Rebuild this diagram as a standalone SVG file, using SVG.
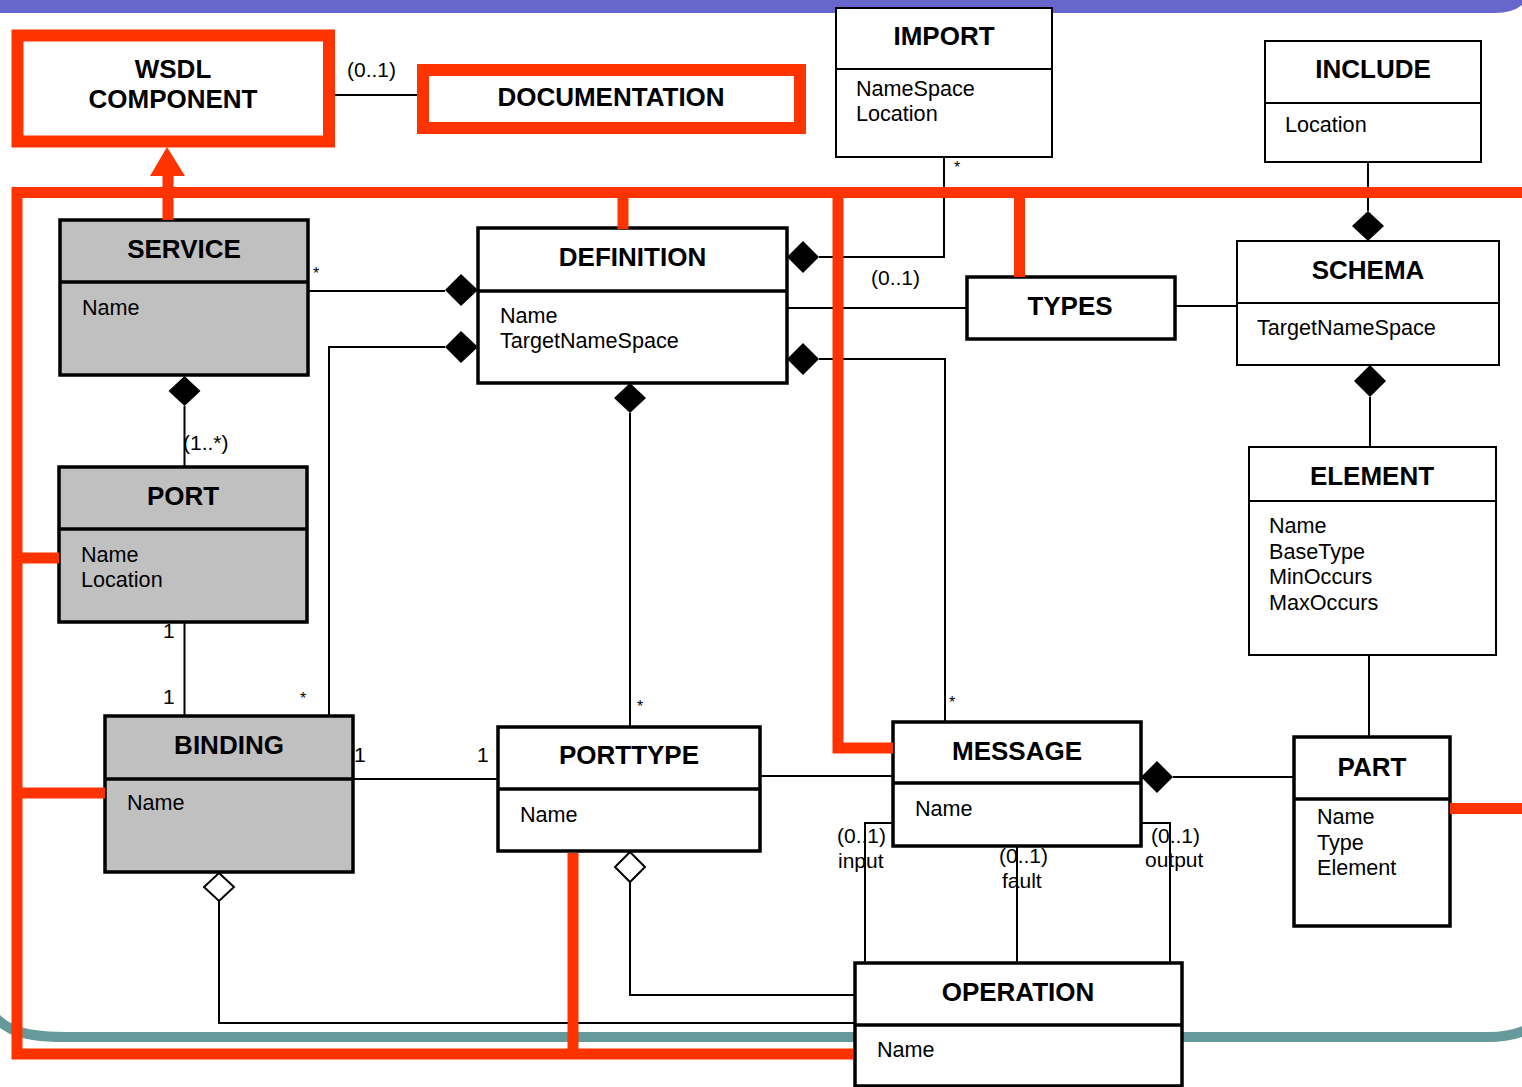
<svg xmlns="http://www.w3.org/2000/svg" width="1522" height="1087" viewBox="0 0 1522 1087">
  <style>
    text { font-family: "Liberation Sans", Arial, sans-serif; fill: #000; }
    .title { font-size: 26px; font-weight: bold; text-anchor: middle; }
    .attr { font-size: 21.6px; }
    .mult { font-size: 21px; }
    .star { font-size: 16px; }
    .box { fill: #fff; stroke: #000; stroke-width: 3.5; }
    .box.grey { fill: #c0c0c0; }
    .box.thin { stroke-width: 2; }
    .div { stroke: #000; stroke-width: 3.5; }
    .div.thin { stroke-width: 2; }
    .conn { fill: none; stroke: #000; stroke-width: 2; }
    .dia { fill: #000; }
    .hdia { fill: #fff; stroke: #000; stroke-width: 2; }
    .red { fill: none; stroke: #ff3300; stroke-width: 11; stroke-linejoin: miter; }
  </style>

  <!-- slide frame -->
  <rect x="0" y="0" width="1522" height="1087" fill="#fff"/>
  <path d="M0,0 H1522 V5 Q1512,13 1495,13 H0 Z" fill="#6666cc"/>
  <path d="M-20,993 C-5,1030 20,1037 65,1037 H1488 Q1510,1037 1526,1030" fill="none" stroke="#669999" stroke-width="10"/>

  <!-- connectors -->
  <g id="connectors">
    <path class="conn" d="M335,95 H417"/>
    <path class="conn" d="M308,291 H445"/>
    <path class="conn" d="M445,347 H329 V717"/>
    <path class="conn" d="M819,257 H944 V157"/>
    <path class="conn" d="M787,308 H967"/>
    <path class="conn" d="M819,359 H945 V722"/>
    <path class="conn" d="M630,413 V727"/>
    <path class="conn" d="M1368,162 V211"/>
    <path class="conn" d="M1175,306 H1237"/>
    <path class="conn" d="M1370,397 V447"/>
    <path class="conn" d="M1369,655 V737"/>
    <path class="conn" d="M184.5,406 V467"/>
    <path class="conn" d="M184.5,622 V716"/>
    <path class="conn" d="M353,779 H498"/>
    <path class="conn" d="M760,776 H893"/>
    <path class="conn" d="M1173,777 H1294"/>
    <path class="conn" d="M630,882 V995 H855"/>
    <path class="conn" d="M219,901 V1023 H855"/>
    <path class="conn" d="M893,823 H865 V963"/>
    <path class="conn" d="M1017,846 V963"/>
    <path class="conn" d="M1141,823 H1170 V963"/>

    <!-- composition diamonds -->
    <polygon class="dia" points="445,290 461,274 478,290 461,306"/>
    <polygon class="dia" points="445,347 461,331 478,347 461,363"/>
    <polygon class="dia" points="787,257 803,241 819,257 803,273"/>
    <polygon class="dia" points="787,359 803,343 819,359 803,375"/>
    <polygon class="dia" points="630,383 646,398 630,413 614,398"/>
    <polygon class="dia" points="184.5,376 200.5,391 184.5,406 168.5,391"/>
    <polygon class="dia" points="1368,211 1384,226 1368,241 1352,226"/>
    <polygon class="dia" points="1370,365 1386,381 1370,397 1354,381"/>
    <polygon class="dia" points="1141,777 1157,761 1173,777 1157,793"/>
    <!-- aggregation diamonds -->
    <polygon class="hdia" points="630,852 645,867 630,882 615,867"/>
    <polygon class="hdia" points="219,873 234,887 219,901 204,887"/>

    <!-- multiplicities -->
    <text class="mult" x="347" y="77">(0..1)</text>
    <text class="mult" x="871" y="285">(0..1)</text>
    <text class="star" x="313" y="279">*</text>
    <text class="star" x="954" y="173">*</text>
    <text class="mult" x="183" y="450">(1..*)</text>
    <text class="mult" x="163" y="638">1</text>
    <text class="mult" x="163" y="704">1</text>
    <text class="star" x="300" y="704">*</text>
    <text class="star" x="637" y="712">*</text>
    <text class="star" x="949" y="708">*</text>
    <text class="mult" x="354" y="762">1</text>
    <text class="mult" x="477" y="762">1</text>
    <text class="mult" x="837" y="843">(0..1)</text>
    <text class="mult" x="838" y="868">input</text>
    <text class="mult" x="999" y="863">(0..1)</text>
    <text class="mult" x="1002" y="888">fault</text>
    <text class="mult" x="1151" y="843">(0..1)</text>
    <text class="mult" x="1145" y="867">output</text>
  </g>

  <!-- classes -->
  <g id="wsdl-component">
    <rect x="17.5" y="35.5" width="311.5" height="106" fill="#fff" stroke="#ff3300" stroke-width="12"/>
    <text class="title" x="173" y="78">WSDL</text>
    <text class="title" x="173" y="108">COMPONENT</text>
  </g>

  <g id="documentation">
    <rect x="423" y="70" width="377" height="58" fill="#fff" stroke="#ff3300" stroke-width="12"/>
    <text class="title" x="611" y="106">DOCUMENTATION</text>
  </g>

  <g id="import">
    <rect class="box thin" x="836" y="8" width="216" height="149"/>
    <line class="div thin" x1="836" y1="69" x2="1052" y2="69"/>
    <text class="title" x="944" y="45">IMPORT</text>
    <text class="attr" x="856" y="96">NameSpace</text>
    <text class="attr" x="856" y="121">Location</text>
  </g>

  <g id="include">
    <rect class="box thin" x="1265" y="41" width="216" height="121"/>
    <line class="div thin" x1="1265" y1="103" x2="1481" y2="103"/>
    <text class="title" x="1373" y="78">INCLUDE</text>
    <text class="attr" x="1285" y="132">Location</text>
  </g>

  <g id="service">
    <rect class="box grey" x="60" y="220" width="248" height="155"/>
    <line class="div" x1="60" y1="282" x2="308" y2="282"/>
    <text class="title" x="184" y="258">SERVICE</text>
    <text class="attr" x="82" y="315">Name</text>
  </g>

  <g id="definition">
    <rect class="box" x="478" y="228" width="309" height="155"/>
    <line class="div" x1="478" y1="291" x2="787" y2="291"/>
    <text class="title" x="632.5" y="266">DEFINITION</text>
    <text class="attr" x="500" y="323">Name</text>
    <text class="attr" x="500" y="348">TargetNameSpace</text>
  </g>

  <g id="types">
    <rect class="box" x="967" y="277" width="208" height="62"/>
    <text class="title" x="1070" y="315">TYPES</text>
  </g>

  <g id="schema">
    <rect class="box thin" x="1237" y="241" width="262" height="124"/>
    <line class="div thin" x1="1237" y1="303" x2="1499" y2="303"/>
    <text class="title" x="1368" y="279">SCHEMA</text>
    <text class="attr" x="1257" y="335">TargetNameSpace</text>
  </g>

  <g id="port">
    <rect class="box grey" x="59" y="467" width="248" height="155"/>
    <line class="div" x1="59" y1="529" x2="307" y2="529"/>
    <text class="title" x="183" y="505">PORT</text>
    <text class="attr" x="81" y="562">Name</text>
    <text class="attr" x="81" y="587">Location</text>
  </g>

  <g id="element">
    <rect class="box thin" x="1249" y="447" width="247" height="208"/>
    <line class="div thin" x1="1249" y1="501" x2="1496" y2="501"/>
    <text class="title" x="1372" y="485">ELEMENT</text>
    <text class="attr" x="1269" y="533">Name</text>
    <text class="attr" x="1269" y="559">BaseType</text>
    <text class="attr" x="1269" y="584">MinOccurs</text>
    <text class="attr" x="1269" y="610">MaxOccurs</text>
  </g>

  <g id="binding">
    <rect class="box grey" x="105" y="716" width="248" height="156"/>
    <line class="div" x1="105" y1="779" x2="353" y2="779"/>
    <text class="title" x="229" y="754">BINDING</text>
    <text class="attr" x="127" y="810">Name</text>
  </g>

  <g id="porttype">
    <rect class="box" x="498" y="727" width="262" height="124"/>
    <line class="div" x1="498" y1="789" x2="760" y2="789"/>
    <text class="title" x="629" y="764">PORTTYPE</text>
    <text class="attr" x="520" y="822">Name</text>
  </g>

  <g id="message">
    <rect class="box" x="893" y="722" width="248" height="124"/>
    <line class="div" x1="893" y1="783" x2="1141" y2="783"/>
    <text class="title" x="1017" y="760">MESSAGE</text>
    <text class="attr" x="915" y="816">Name</text>
  </g>

  <g id="part">
    <rect class="box" x="1294" y="737" width="156" height="189"/>
    <line class="div" x1="1294" y1="799" x2="1450" y2="799"/>
    <text class="title" x="1372" y="776">PART</text>
    <text class="attr" x="1317" y="824">Name</text>
    <text class="attr" x="1317" y="850">Type</text>
    <text class="attr" x="1317" y="875">Element</text>
  </g>

  <g id="operation">
    <rect class="box" x="855" y="963" width="327" height="123"/>
    <line class="div" x1="855" y1="1025" x2="1182" y2="1025"/>
    <text class="title" x="1018" y="1001">OPERATION</text>
    <text class="attr" x="877" y="1057">Name</text>
  </g>

  <!-- inheritance overlay -->
  <g id="inheritance">
    <path class="red" d="M1522,192.5 H17 V1054 H853"/>
    <path class="red" d="M168,220 V174"/>
    <polygon points="167,147 185,176 150,176" fill="#ff3300"/>
    <path class="red" d="M623,192 V229"/>
    <path class="red" d="M838,192 V748 H893"/>
    <path class="red" d="M1019.5,192 V277"/>
    <path class="red" d="M17,558 H59"/>
    <path class="red" d="M17,793 H105"/>
    <path class="red" d="M573,853 V1054"/>
    <path class="red" d="M1450,808.5 H1522"/>
  </g>
</svg>
